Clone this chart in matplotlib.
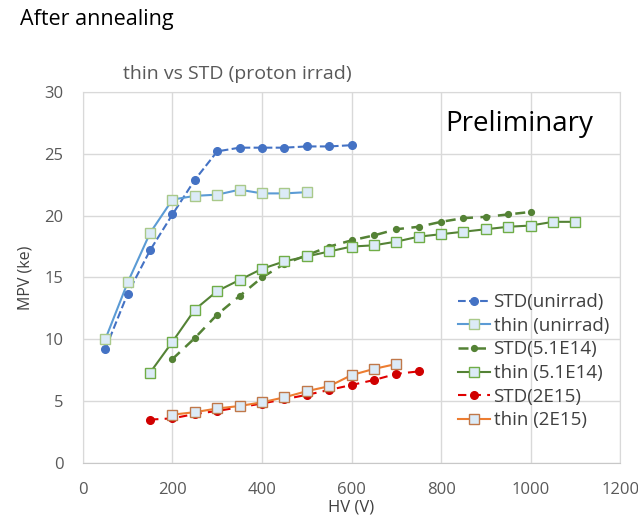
import matplotlib
matplotlib.use("Agg")
import matplotlib.pyplot as plt

plt.rcParams['font.family'] = ['Open Sans', 'DejaVu Sans']

# HV scans (V) and MPV (ke) for each sensor / fluence
hv_std_unirr = [50, 100, 150, 200, 250, 300, 350, 400, 450, 500, 550, 600]
mpv_std_unirr = [9.2, 13.7, 17.2, 20.1, 22.9, 25.2, 25.5, 25.5, 25.5, 25.6, 25.6, 25.7]

hv_thin_unirr = [50, 100, 150, 200, 250, 300, 350, 400, 450, 500]
mpv_thin_unirr = [10.0, 14.6, 18.6, 21.3, 21.6, 21.7, 22.1, 21.8, 21.8, 21.9]

hv_std_51e14 = [200, 250, 300, 350, 400, 450, 500, 550, 600, 650,
                700, 750, 800, 850, 900, 950, 1000]
mpv_std_51e14 = [8.4, 10.1, 12.0, 13.5, 15.0, 16.1, 16.8, 17.5, 18.0, 18.4,
                 18.9, 19.1, 19.5, 19.8, 19.9, 20.1, 20.3]

hv_thin_51e14 = [150, 200, 250, 300, 350, 400, 450, 500, 550, 600,
                 650, 700, 750, 800, 850, 900, 950, 1000, 1050, 1100]
mpv_thin_51e14 = [7.3, 9.8, 12.4, 13.9, 14.8, 15.7, 16.3, 16.7, 17.1, 17.5,
                  17.6, 17.9, 18.3, 18.5, 18.7, 18.9, 19.1, 19.2, 19.5, 19.5]

hv_std_2e15 = [150, 200, 250, 300, 350, 400, 450, 500, 550, 600, 650, 700, 750]
mpv_std_2e15 = [3.5, 3.6, 3.95, 4.2, 4.5, 4.8, 5.15, 5.5, 5.9, 6.3, 6.7, 7.2, 7.4]

hv_thin_2e15 = [200, 250, 300, 350, 400, 450, 500, 550, 600, 650, 700]
mpv_thin_2e15 = [3.9, 4.1, 4.4, 4.6, 4.9, 5.3, 5.8, 6.2, 7.1, 7.6, 8.0]

fig = plt.figure(figsize=(6.38, 5.23), dpi=100)
ax = fig.add_axes([0.130, 0.115, 0.842, 0.709])

sq_fill = '#DCEBF7'
ax.plot(hv_std_unirr, mpv_std_unirr, ls='--', color='#4472C4', lw=1.5,
        marker='o', ms=5.5, mfc='#4472C4', mec='#4472C4', label='STD(unirrad)', zorder=3)
ax.plot(hv_thin_unirr, mpv_thin_unirr, ls='-', color='#5B9BD5', lw=1.5,
        marker='s', ms=7.5, mfc=sq_fill, mec='#A9C98A', mew=1.0, label='thin (unirrad)', zorder=3)
ax.plot(hv_std_51e14, mpv_std_51e14, ls='--', color='#548235', lw=1.8,
        dashes=(4, 3), marker='o', ms=4.2, mfc='#548235', mec='#548235',
        label='STD(5.1E14)', zorder=3)
ax.plot(hv_thin_51e14, mpv_thin_51e14, ls='-', color='#548235', lw=1.5,
        marker='s', ms=7.5, mfc=sq_fill, mec='#70AD47', mew=1.0, label='thin (5.1E14)', zorder=3)
ax.plot(hv_std_2e15, mpv_std_2e15, ls='--', color='#E00000', lw=1.5,
        dashes=(4, 3), marker='o', ms=5.5, mfc='#D00000', mec='#D00000',
        label='STD(2E15)', zorder=3)
ax.plot(hv_thin_2e15, mpv_thin_2e15, ls='-', color='#ED7D31', lw=1.5,
        marker='s', ms=7.5, mfc=sq_fill, mec='#C0784A', mew=1.0, label='thin (2E15)', zorder=4)

ax.set_xlim(0, 1200)
ax.set_ylim(0, 30)
ax.set_xticks(range(0, 1201, 200))
ax.set_yticks(range(0, 31, 5))
ax.grid(True, color='#D9D9D9', lw=1.0)
ax.set_axisbelow(True)
for side in ['left', 'right', 'top']:
    ax.spines[side].set_color('#D9D9D9')
ax.spines['bottom'].set_color('#C8C8C8')
ax.tick_params(axis='both', length=0, labelsize=12, labelcolor='#595959')
ax.tick_params(axis='x', pad=14)
ax.tick_params(axis='y', pad=14)

ax.set_xlabel('HV (V)', fontsize=12, color='#404040', labelpad=1)
ax.set_ylabel('MPV (ke)', fontsize=11.5, color='#404040', labelpad=8)

fig.text(0.031, 0.962, 'After annealing', fontsize=15.5, color='black', va='center')
fig.text(0.193, 0.858, 'thin vs STD (proton irrad)', fontsize=14, color='#595959', va='center')
ax.text(0.950, 0.914, 'Preliminary', transform=ax.transAxes, fontsize=20,
        color='black', ha='right', va='center')

leg = ax.legend(loc='lower right', bbox_to_anchor=(1.0, 0.06), frameon=False,
                fontsize=13.5, handlelength=1.7, handletextpad=0.2,
                labelspacing=0.30, borderaxespad=0.2, labelcolor='#404040')

fig.savefig('out.png', dpi=100)
